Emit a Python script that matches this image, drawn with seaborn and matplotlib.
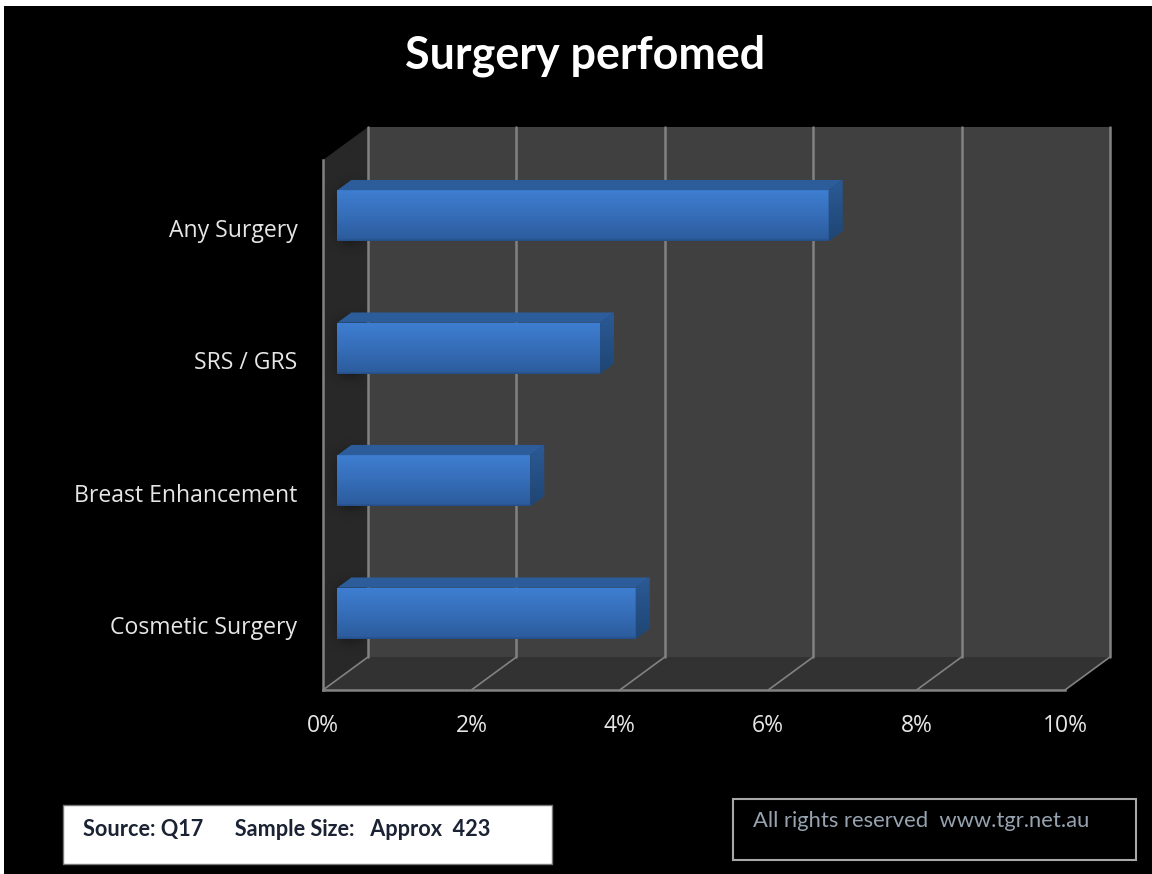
import numpy as np
import matplotlib
matplotlib.use("Agg")
import matplotlib.pyplot as plt
from matplotlib.patches import Polygon, Rectangle
from matplotlib.colors import LinearSegmentedColormap
from matplotlib.transforms import Affine2D
import seaborn as sns

categories = ["Any Surgery", "SRS / GRS", "Breast Enhancement", "Cosmetic Surgery"]
values = [6.62, 3.54, 2.6, 4.02]
x_ticks = [0, 2, 4, 6, 8, 10]
x_tick_labels = ["0%", "2%", "4%", "6%", "8%", "10%"]
title = "Surgery perfomed"
source_text = "Source: Q17      Sample Size:   Approx  423"
rights_text = "All rights reserved  www.tgr.net.au"

W, H = 1152, 874
sns.set_theme(style="dark")
plt.rcParams["font.family"] = ["Lato", "DejaVu Sans"]

fig = plt.figure(figsize=(W / 100, H / 100), dpi=100, facecolor="white")


def fx(px):
    return px / W


def fy(py):
    return 1 - py / H


def frect(x0, y0, x1, y1, **kw):
    r = Rectangle((fx(x0), fy(y1)), fx(x1) - fx(x0), fy(y0) - fy(y1),
                  transform=fig.transFigure, **kw)
    fig.add_artist(r)
    return r


frect(4, 6, W, H, facecolor="black", edgecolor="none", zorder=-10)

# front plane of the 3-D box
L, R, T, B = 323, 1065, 160, 690
ax = fig.add_axes([fx(L), fy(B), fx(R) - fx(L), fy(T) - fy(B)])
ax.set_facecolor("none")

df_x = 45 / ((R - L) / 10)           # full box depth in x units
df_y = -33 / ((B - T) / 4)           # full box depth in category units
F1, F2 = 0.32, 0.63                  # the depth slice occupied by the bars

sns.barplot(x=values, y=categories, orient="h", ax=ax, width=0.385,
            color="#3872c0", saturation=1, zorder=5)
ax.set_xlim(0, 10)
ax.set_ylim(3.5, -0.5)

GRID = "#828282"
y0, y1 = 3.5, -0.5
x0, x1 = 0, 10
bx0, bx1 = x0 + df_x, x1 + df_x
by0, by1 = y0 + df_y, y1 + df_y

# walls
wall = Polygon([(x0, y0), (x0, y1), (bx0, by1), (bx0, by0)], closed=True,
               facecolor="#282828", edgecolor="none", clip_on=False, zorder=1)
ax.add_patch(wall)
ax.add_patch(Polygon([(bx0, by0), (bx0, by1), (bx1, by1), (bx1, by0)], closed=True,
                     facecolor="#404040", edgecolor="none", clip_on=False, zorder=1))
ax.add_patch(Polygon([(x0, y0), (bx0, by0), (bx1, by0), (x1, y0)], closed=True,
                     facecolor="#323232", edgecolor="none", clip_on=False, zorder=1))

# gridlines on the back wall and the floor
for t in x_ticks:
    ax.plot([t + df_x, t + df_x], [by0, by1], color=GRID, lw=1.8, clip_on=False, zorder=2)
    ax.plot([t, t + df_x], [y0, by0], color=GRID, lw=1.2, clip_on=False, zorder=2)

# bars: front gradient plus top and side faces
front_cmap = LinearSegmentedColormap.from_list(
    "front", [(0, "#3f80d4"), (0.08, "#3d7cce"), (0.55, "#356cb6"),
              (0.95, "#2c5d9e"), (1, "#254f88")])
side_cmap = LinearSegmentedColormap.from_list("side", ["#2b5a96", "#1f4674"])
grad = np.linspace(0, 1, 128).reshape(-1, 1)
shadow = np.zeros((80, 40, 4))
yy, xx = np.mgrid[-1:1:80j, 0:1:40j]
shadow[..., 3] = 0.6 * np.exp(-(yy / 0.6) ** 4) * np.exp(-((xx - 0.62) / 0.3) ** 2)

for bar in list(ax.patches):
    if bar.get_zorder() != 5:
        continue
    w, h, yb = bar.get_width(), bar.get_height(), bar.get_y()
    xf = F1 * df_x
    yt = yb + F1 * df_y              # upper edge (inverted axis)
    ybtm = yt + h
    bar.set_x(xf)
    bar.set_y(yt)
    bar.set_edgecolor("none")
    xe = xf + w
    ddx, ddy = (F2 - F1) * df_x, (F2 - F1) * df_y
    im = ax.imshow(grad, cmap=front_cmap, aspect="auto", zorder=6,
                   extent=(xf, xe, ybtm, yt), interpolation="bilinear")
    im.set_clip_path(bar)
    ax.add_patch(Polygon([(xf, yt), (xf + ddx, yt + ddy), (xe + ddx, yt + ddy), (xe, yt)],
                         closed=True, facecolor="#2c5c9a", edgecolor="none",
                         clip_on=False, zorder=6))
    side = Polygon([(xe, yt), (xe + ddx, yt + ddy), (xe + ddx, ybtm + ddy), (xe, ybtm)],
                   closed=True, facecolor="#25507f", edgecolor="none",
                   clip_on=False, zorder=6)
    ax.add_patch(side)
    sim = ax.imshow(grad, cmap=side_cmap, aspect="auto", zorder=6.5, clip_on=True,
                    extent=(xe, xe + ddx, ybtm, yt + ddy), interpolation="bilinear")
    sim.set_clip_path(side)
    # soft shadow cast on the side wall
    ax.imshow(shadow, aspect="auto", zorder=1.5, clip_on=False,
              extent=(x0, bx0, ybtm + 0.16, yt - 0.16), interpolation="bilinear")

ax.set_xlim(0, 10)
ax.set_ylim(3.5, -0.5)

# axis styling
for s in ["top", "right"]:
    ax.spines[s].set_visible(False)
for s in ["left", "bottom"]:
    ax.spines[s].set_visible(True)
    ax.spines[s].set_color(GRID)
    ax.spines[s].set_linewidth(1.8)
    ax.spines[s].set_zorder(3)
ax.set_xticks(x_ticks)
ax.set_xticklabels(x_tick_labels)
ax.set_xlabel("")
ax.set_ylabel("")
ax.grid(False)
ax.tick_params(axis="x", length=0, pad=17, labelsize=16.5, labelcolor="#e6e6e6")
ax.tick_params(axis="y", length=0, pad=18.5, labelsize=16.6, labelcolor="#e6e6e6")
for lab in ax.get_xticklabels() + ax.get_yticklabels():
    lab.set_family(["Open Sans", "DejaVu Sans"])
for lab in ax.get_yticklabels():
    lab.set_transform(lab.get_transform() + Affine2D().translate(0, -1.5))

fig.text(fx(585), fy(56), title, color="white", fontsize=32.3, fontweight="bold",
         ha="center", va="center")

frect(63, 805, 552, 864, facecolor="white", edgecolor="#777777", linewidth=1)
fig.text(fx(83), fy(829), source_text, color="#1a2233", fontsize=15.6, fontweight="bold",
         ha="left", va="center")
frect(733, 799, 1136, 860, facecolor="none", edgecolor="#a8a8a8", linewidth=1.5)
fig.text(fx(753), fy(821), rights_text, color="#97a3b0", fontsize=15.8,
         ha="left", va="center")

fig.savefig("out.png", dpi=100, facecolor=fig.get_facecolor())
